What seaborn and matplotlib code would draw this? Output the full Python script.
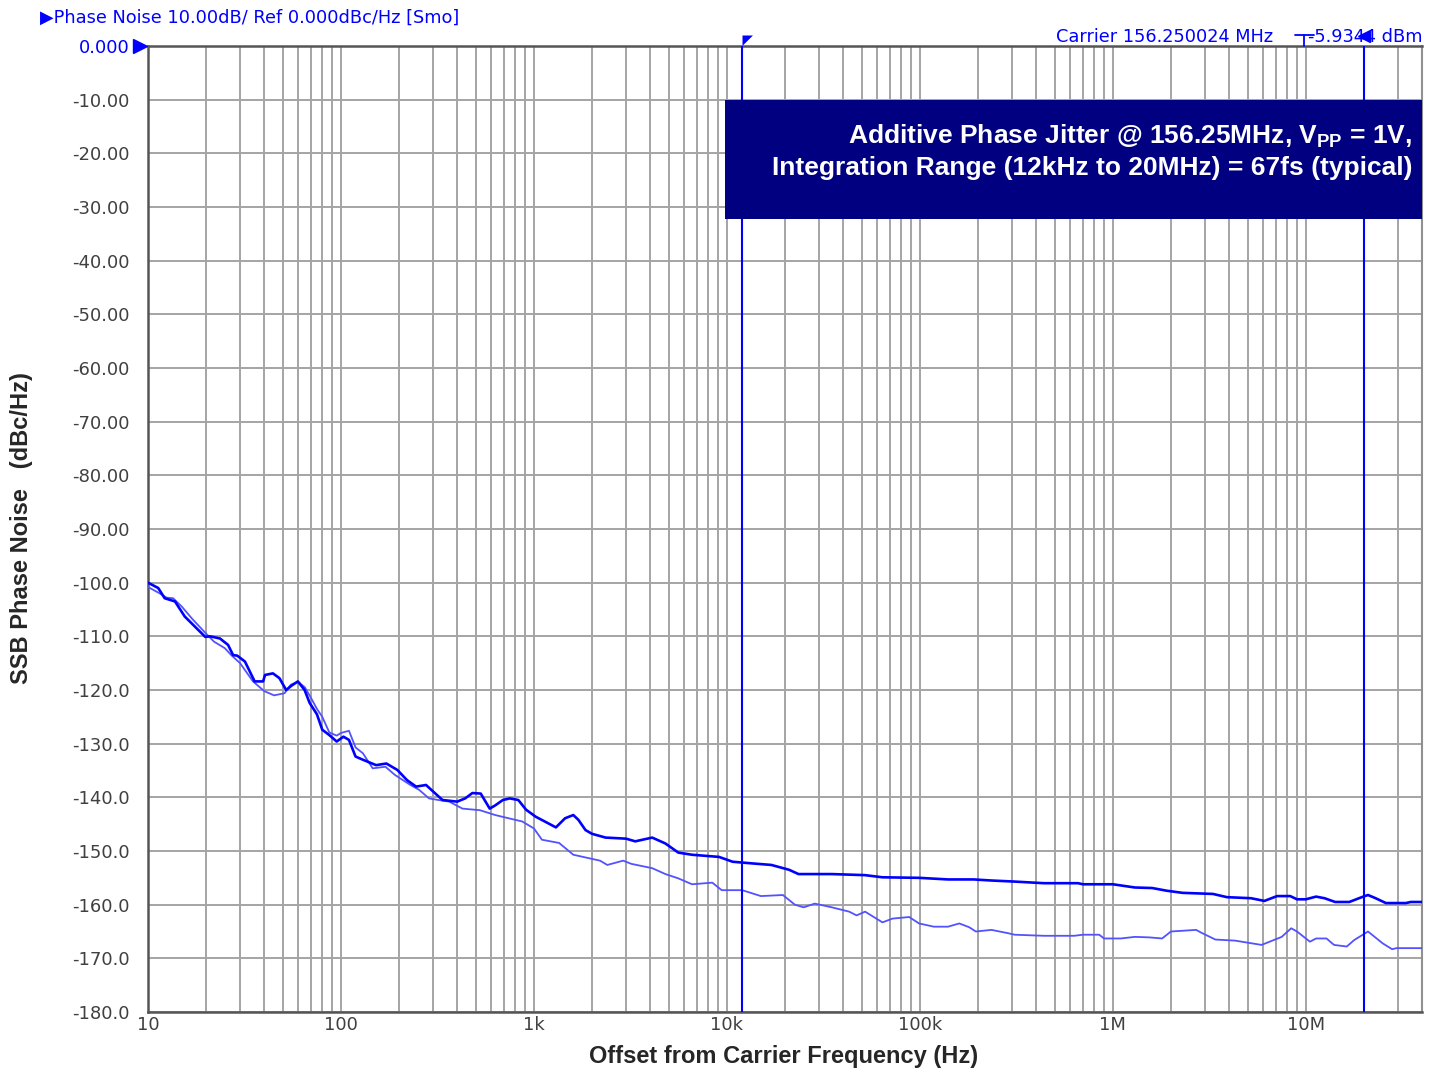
import numpy as np
import pandas as pd
import matplotlib
matplotlib.use('Agg')
import matplotlib.pyplot as plt
from matplotlib.patches import Rectangle
from matplotlib.lines import Line2D
from matplotlib.ticker import FixedLocator, NullFormatter
import seaborn as sns

# offset frequency (Hz) / SSB phase noise (dBc/Hz)
freq_dark = [10, 11.3, 12.2, 13.8, 15.5, 19.8, 21, 23.6, 26, 27.6, 29, 31.8, 35.7, 39.5, 40.4,
             44.4, 48, 52, 55.4, 59.8, 64.8, 68.8, 75, 80, 87, 95, 103, 110, 119, 130, 152,
             172, 196, 220, 245, 276, 300, 336, 400, 440, 480, 530, 590, 630, 690, 750, 830,
             910, 1020, 1180, 1300, 1450, 1600, 1700, 1850, 2000, 2350, 3000, 3350, 4100,
             4800, 5600, 6600, 9100, 10700, 13400, 17000, 21000, 23500, 35000, 52000, 64000,
             99000, 140000, 190000, 235000, 310000, 440000, 660000, 700000, 1.0e6, 1.3e6,
             1.6e6, 1.9e6, 2.3e6, 3.3e6, 3.9e6, 5.2e6, 6.1e6, 7.1e6, 8.3e6, 9.0e6, 10e6,
             11.3e6, 12.5e6, 14.2e6, 16.8e6, 19.5e6, 21e6, 23e6, 26e6, 33e6, 35e6, 40e6]
pn_dark = [-100.0, -101.0, -102.9, -103.5, -106.3, -110.1, -110.0, -110.4, -111.6, -113.5,
           -113.6, -114.7, -118.4, -118.4, -117.2, -116.9, -117.8, -120.0, -119.2, -118.4,
           -120.0, -122.4, -124.5, -127.4, -128.4, -129.6, -128.7, -129.3, -132.4, -133.0,
           -134.0, -133.7, -134.9, -136.8, -138.0, -137.7, -138.9, -140.5, -140.8, -140.2,
           -139.2, -139.3, -142.1, -141.5, -140.5, -140.2, -140.5, -142.3, -143.6, -144.8,
           -145.6, -143.9, -143.3, -144.2, -146.1, -146.8, -147.5, -147.7, -148.2, -147.5,
           -148.6, -150.3, -150.7, -151.1, -152.0, -152.3, -152.6, -153.5, -154.3, -154.3,
           -154.5, -154.9, -155.0, -155.3, -155.3, -155.5, -155.7, -156.0, -156.0, -156.2,
           -156.2, -156.8, -156.9, -157.4, -157.8, -158.0, -158.6, -158.8, -159.3, -158.4,
           -158.4, -159.0, -159.0, -158.5, -158.8, -159.5, -159.5, -158.6, -158.2, -158.8,
           -159.7, -159.7, -159.5, -159.5]

freq_light = [10, 11.5, 12.5, 13.5, 15, 17, 20, 22, 25, 27, 30, 35, 40, 45, 51, 55, 60, 65,
              70, 75, 80, 87, 95, 100, 110, 119, 130, 146, 170, 190, 229, 254, 286, 320, 364,
              426, 525, 630, 780, 870, 1000, 1100, 1350, 1600, 1850, 2200, 2400, 2900, 3200,
              4100, 4800, 5600, 6600, 8400, 9400, 12000, 15000, 19500, 22500, 25000, 28500,
              35000, 43000, 47000, 52000, 64000, 72000, 88000, 99000, 118000, 140000, 160000,
              180000, 195000, 235000, 285000, 310000, 440000, 630000, 700000, 850000, 900000,
              1.1e6, 1.3e6, 1.55e6, 1.8e6, 2.0e6, 2.7e6, 2.9e6, 3.4e6, 4.3e6, 5.9e6, 7.5e6,
              8.4e6, 9.0e6, 10.5e6, 11.3e6, 12.8e6, 14e6, 16.3e6, 17.8e6, 21e6, 25e6, 28e6,
              29.5e6, 40e6]
pn_light = [-100.8, -102.0, -102.8, -102.9, -104.5, -106.8, -109.5, -111.0, -112.2, -113.5,
            -115.0, -118.4, -120.2, -121.0, -120.6, -119.0, -118.5, -119.5, -121.5, -123.5,
            -125.0, -127.9, -128.5, -128.0, -127.6, -130.7, -131.8, -134.6, -134.3, -135.8,
            -137.7, -138.6, -140.2, -140.5, -140.8, -142.1, -142.4, -143.3, -144.1, -144.5,
            -145.8, -147.9, -148.5, -150.7, -151.2, -151.8, -152.6, -151.8, -152.4, -153.2,
            -154.3, -155.1, -156.2, -155.9, -157.3, -157.3, -158.4, -158.2, -160.0, -160.5,
            -159.8, -160.5, -161.3, -162.0, -161.3, -163.3, -162.6, -162.3, -163.5, -164.1,
            -164.1, -163.5, -164.2, -165.0, -164.7, -165.3, -165.6, -165.8, -165.8, -165.6,
            -165.6, -166.3, -166.3, -166.0, -166.1, -166.3, -165.0, -164.7, -165.3, -166.5,
            -166.7, -167.5, -166.0, -164.4, -165.0, -166.9, -166.3, -166.3, -167.5, -167.8,
            -166.6, -165.0, -167.2, -168.3, -168.1, -168.1]

x_ticks = [10, 100, 1e3, 1e4, 1e5, 1e6, 1e7]
x_ticklabels = ['10', '100', '1k', '10k', '100k', '1M', '10M']
y_ticks = list(range(0, -181, -10))
y_ticklabels = ['0.000'] + ['%.2f' % v for v in y_ticks[1:10]] + ['%.1f' % v for v in y_ticks[10:]]
markers = [12e3, 20e6]

sns.set_style('white')
plt.rcParams['font.family'] = ['DejaVu Sans']
plt.rcParams['mathtext.fontset'] = 'custom'
plt.rcParams['mathtext.bf'] = 'Liberation Sans:bold'
plt.rcParams['mathtext.rm'] = 'Liberation Sans'

W, H = 1432, 1071
fig = plt.figure(figsize=(W / 100, H / 100), dpi=100)
ax = fig.add_axes([148 / W, 1 - 1012 / H, (1422 - 148) / W, (1012 - 46) / H])

blue = '#0000ff'
grid_c = '#a4a4a4'
lab_c = '#404040'

df_light = pd.DataFrame({'freq': freq_light, 'pn': pn_light})
df_dark = pd.DataFrame({'freq': freq_dark, 'pn': pn_dark})
sns.lineplot(data=df_light, x='freq', y='pn', ax=ax, color='#5252ff', lw=1.3, zorder=3)
sns.lineplot(data=df_dark, x='freq', y='pn', ax=ax, color=blue, lw=1.9, zorder=3)

ax.set_xscale('log')
ax.set_xlim(10, 4e7)
ax.set_ylim(-180, 0)
ax.set_xlabel('')
ax.set_ylabel('')

ax.xaxis.set_major_locator(FixedLocator(x_ticks))
ax.set_xticklabels(x_ticklabels)
minor = [m * 10 ** e for e in range(1, 8) for m in range(2, 10) if m * 10 ** e <= 4e7]
ax.xaxis.set_minor_locator(FixedLocator(minor))
ax.xaxis.set_minor_formatter(NullFormatter())
ax.set_yticks(y_ticks)
ax.set_yticklabels(y_ticklabels)

ax.grid(which='both', axis='x', color=grid_c, lw=1.4)
ax.grid(which='major', axis='y', color=grid_c, lw=1.4)
ax.set_axisbelow(True)
ax.tick_params(which='both', length=0, labelsize=13, labelcolor=lab_c)
ax.tick_params(axis='y', pad=13)
ax.tick_params(axis='x', pad=3)
ax.get_yticklabels()[0].set_color(blue)

for side in ['left', 'bottom', 'top']:
    ax.spines[side].set_color('#555555')
    ax.spines[side].set_linewidth(1.8)
ax.spines['right'].set_color('#909090')
ax.spines['right'].set_linewidth(1.5)

# marker lines and their flags
for m in markers:
    ax.axvline(m, color=blue, lw=1.5, zorder=4)
flag = [(0, 0), (1, 0), (0, -1), (0, 0)]
ax.plot([12e3], [1 + 11 / 966], marker=flag, ms=15, color=blue, mew=0,
        transform=ax.get_xaxis_transform(), clip_on=False, zorder=6)
ax.plot([20e6], [1 + 10 / 966], marker='<', ms=8, color=blue,
        transform=ax.get_xaxis_transform(), clip_on=False, zorder=6)
ax.plot([-0.006], [1.0], marker='>', ms=10, color=blue,
        transform=ax.transAxes, clip_on=False, zorder=6)

# annotation box
x0 = (725 - 148) / (1422 - 148)
y_top = 1 - (100 - 46) / (1012 - 46)
y_bot = 1 - (219 - 46) / (1012 - 46)
ax.add_patch(Rectangle((x0, y_bot), 1 - x0, y_top - y_bot, transform=ax.transAxes,
                       facecolor='#000080', edgecolor='none', zorder=5, clip_on=False))
tx = (1412 - 148) / (1422 - 148)
ax.text(tx, 1 - (136 - 46) / 966, r'Additive Phase Jitter @ 156.25MHz, V$_{\mathbf{PP}}$ = 1V,',
        transform=ax.transAxes, ha='right', va='center', color='white', fontsize=19,
        fontweight='bold', family='Liberation Sans', zorder=6)
ax.text(tx, 1 - (168 - 46) / 966, 'Integration Range (12kHz to 20MHz) = 67fs (typical)',
        transform=ax.transAxes, ha='right', va='center', color='white', fontsize=19,
        fontweight='bold', family='Liberation Sans', zorder=6)

# header texts
fig.text(40 / W, 1 - 18 / H, '\u25b6Phase Noise 10.00dB/ Ref 0.000dBc/Hz [Smo]', color=blue,
         fontsize=12.8, ha='left', va='center')
fig.text(1273 / W, 1 - 37 / H, 'Carrier 156.250024 MHz', color=blue, fontsize=12.8,
         ha='right', va='center')
fig.text(1422 / W, 1 - 37 / H, '-5.9344 dBm', color=blue, fontsize=12.8,
         ha='right', va='center')
fig.add_artist(Line2D([1295 / W, 1314 / W], [1 - 35 / H, 1 - 35 / H], color=blue, lw=1.3))
fig.add_artist(Line2D([1304 / W, 1304 / W], [1 - 35 / H, 1 - 46 / H], color=blue, lw=1.3))

# axis titles
fig.text(784 / W, 1 - 1057 / H, 'Offset from Carrier Frequency (Hz)', fontsize=17,
         fontweight='bold', family='Liberation Sans', ha='center', va='center')
fig.text(22 / W, 1 - 528 / H, 'SSB Phase Noise   (dBc/Hz)', fontsize=17, rotation=90,
         fontweight='bold', family='Liberation Sans', ha='center', va='center')

fig.savefig('out.png', dpi=100)
